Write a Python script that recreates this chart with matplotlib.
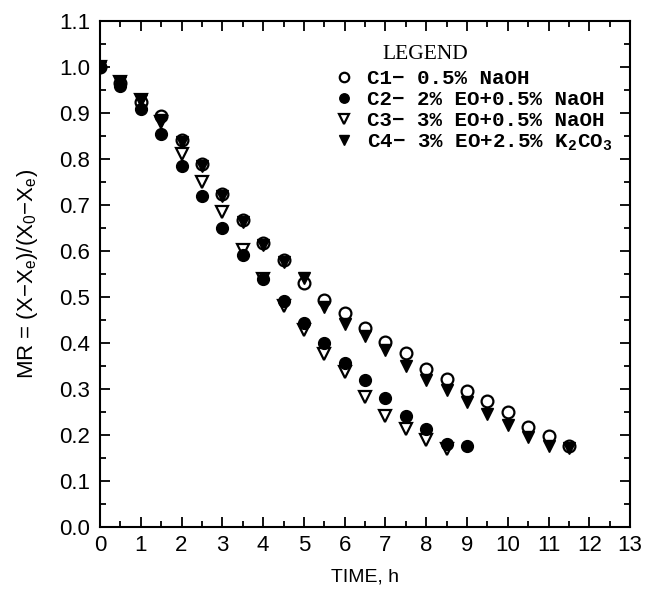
import matplotlib
matplotlib.use("Agg")
import matplotlib.pyplot as plt
from matplotlib.ticker import MultipleLocator

# drying time, h
time_long = [0, 0.5, 1, 1.5, 2, 2.5, 3, 3.5, 4, 4.5, 5, 5.5, 6, 6.5,
             7, 7.5, 8, 8.5, 9, 9.5, 10, 10.5, 11, 11.5]
time_c2 = time_long[:19]
time_c3 = time_long[:18]

# moisture ratio MR
mr_c1 = [1.0, 0.965, 0.925, 0.893, 0.841, 0.790, 0.725, 0.667, 0.617, 0.581,
         0.530, 0.493, 0.465, 0.432, 0.402, 0.378, 0.344, 0.322, 0.296, 0.274,
         0.250, 0.218, 0.198, 0.176]
mr_c2 = [1.0, 0.960, 0.909, 0.854, 0.784, 0.719, 0.650, 0.591, 0.539, 0.491,
         0.444, 0.400, 0.356, 0.319, 0.281, 0.241, 0.213, 0.181, 0.176]
mr_c3 = [1.0, 0.967, 0.929, 0.880, 0.812, 0.750, 0.685, 0.603, 0.539, 0.480,
         0.428, 0.377, 0.336, 0.282, 0.241, 0.212, 0.190, 0.170]
mr_c4 = [1.0, 0.967, 0.929, 0.886, 0.838, 0.785, 0.720, 0.664, 0.614, 0.576,
         0.541, 0.479, 0.442, 0.416, 0.385, 0.349, 0.319, 0.297, 0.271, 0.245,
         0.221, 0.196, 0.176, 0.172]

labels = ["C1\u2212 0.5% NaOH",
          "C2\u2212 2% EO+0.5% NaOH",
          "C3\u2212 3% EO+0.5% NaOH",
          "C4\u2212 3% EO+2.5% K$_\\mathregular{2}$CO$_\\mathregular{3}$"]

plt.rcParams['font.family'] = ['Liberation Sans', 'DejaVu Sans']

fig = plt.figure(figsize=(6.45, 5.9), dpi=100)
ax = fig.add_axes([0.155, 0.107, 0.822, 0.857])

ms = 8.5
ax.plot(time_long, mr_c1, 'o', ms=ms, mfc='none', mec='black', mew=1.6,
        label=labels[0], zorder=2)
ax.plot(time_c2, mr_c2, 'o', ms=ms, mfc='black', mec='black',
        label=labels[1], zorder=4)
ax.plot(time_c3, mr_c3, 'v', ms=ms, mfc='none', mec='black', mew=1.6,
        label=labels[2], zorder=3)
ax.plot(time_long, mr_c4, 'v', ms=ms, mfc='black', mec='black',
        label=labels[3], zorder=2)

ax.set_xlim(0, 13)
ax.set_ylim(0, 1.1)
ax.xaxis.set_major_locator(MultipleLocator(1))
ax.xaxis.set_minor_locator(MultipleLocator(0.5))
ax.yaxis.set_major_locator(MultipleLocator(0.1))
ax.yaxis.set_minor_locator(MultipleLocator(0.05))
ax.yaxis.set_major_formatter(matplotlib.ticker.FormatStrFormatter('%.1f'))
ax.tick_params(which='both', direction='in', top=True, right=True, width=1.3)
ax.tick_params(which='major', length=7.5, labelsize=16)
ax.tick_params(axis='x', which='major', pad=6)
ax.tick_params(axis='y', which='major', pad=7)
ax.tick_params(which='minor', length=4)
for sp in ax.spines.values():
    sp.set_linewidth(1.5)

ax.set_xlabel('TIME, h', fontsize=14, labelpad=9)
ax.set_ylabel('MR = (X\u2212X$_\\mathregular{e}$)/(X$_\\mathregular{0}$\u2212X$_\\mathregular{e}$)',
              fontsize=16, labelpad=14)

ax.text(0.532, 0.935, 'LEGEND', transform=ax.transAxes, fontsize=15.5,
        family='Liberation Serif', ha='left', va='center')
leg = ax.legend(loc='upper left', bbox_to_anchor=(0.44, 0.905), frameon=False,
                prop={'family': 'Liberation Mono', 'size': 15, 'weight': 'bold'},
                handlelength=1.0, handletextpad=0.6, labelspacing=0.1,
                borderaxespad=0, borderpad=0, markerscale=0.8)

fig.savefig('out.png', dpi=100)
